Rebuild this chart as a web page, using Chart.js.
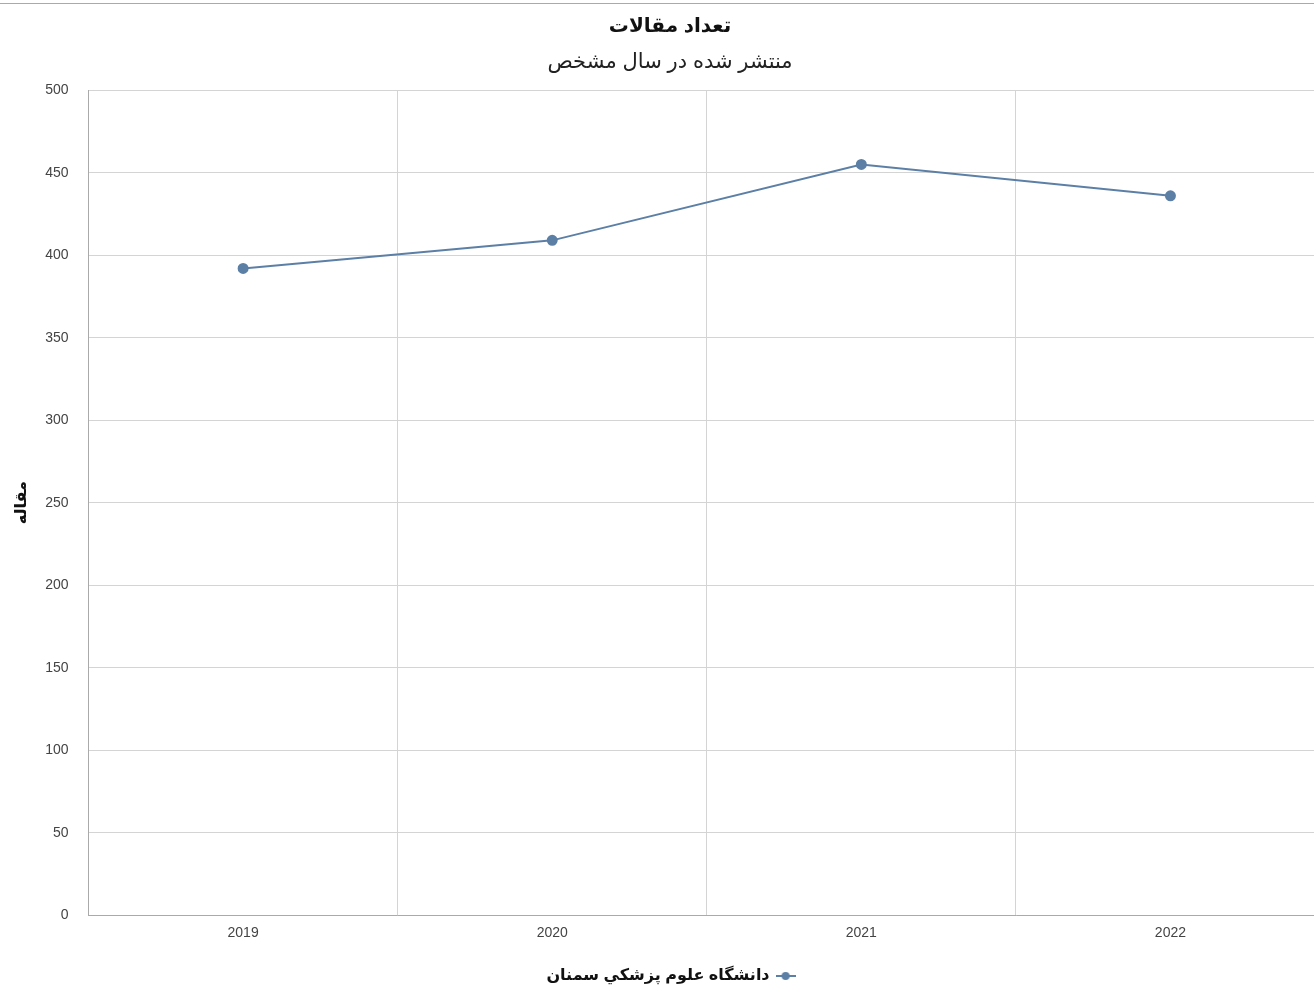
<!DOCTYPE html>
<html>
<head>
<meta charset="utf-8">
<script src="https://cdn.jsdelivr.net/npm/chart.js@4.4.0/dist/chart.umd.min.js"></script>
<style>
  html, body { margin: 0; padding: 0; background: #fff; overflow: hidden; width: 1314px; height: 985px; }
  #topline { position: absolute; top: 3px; left: 0; width: 1314px; height: 0; border-top: 1px solid #aaa; }
  #wrap { position: absolute; top: 4px; left: 0; width: 1332px; height: 990px; }
</style>
</head>
<body>
<div id="topline"></div>
<div id="wrap"><canvas id="chart" width="1332" height="990"></canvas></div>
<script>
// داده‌ها
const years = ['2019', '2020', '2021', '2022'];
const articles = [392, 409, 455, 436];
const seriesName = 'دانشگاه علوم پزشکي سمنان';
const yTicks = [0, 50, 100, 150, 200, 250, 300, 350, 400, 450, 500];

const lineColor = 'rgb(92, 127, 166)';
const gridColor = '#d4d4d4';
const fontFamily = '"Liberation Sans", "DejaVu Sans", Arial, sans-serif';

// نشانگر راهنما: خط کوتاه با دایره در وسط
function legendMarker() {
    const c = document.createElement('canvas');
    c.width = 20;
    c.height = 10;
    const g = c.getContext('2d');
    g.strokeStyle = lineColor;
    g.lineWidth = 2;
    g.beginPath();
    g.moveTo(0, 5);
    g.lineTo(20, 5);
    g.stroke();
    g.fillStyle = lineColor;
    g.beginPath();
    g.arc(10, 5, 4, 0, Math.PI * 2);
    g.fill();
    return c;
}

const ctx = document.getElementById('chart').getContext('2d');

new Chart(ctx, {
    type: 'line',
    data: {
        labels: years,
        datasets: [{
            label: seriesName,
            data: articles,
            borderColor: lineColor,
            backgroundColor: lineColor,
            borderWidth: 2,
            pointRadius: 4.5,
            pointHoverRadius: 5,
            tension: 0,
            pointStyle: 'circle'
        }]
    },
    options: {
        responsive: false,
        animation: false,
        layout: { padding: { left: 8, right: 0, top: 4, bottom: 0 } },
        plugins: {
            title: {
                display: true,
                text: 'تعداد مقالات',
                color: '#111',
                font: { family: fontFamily, size: 20, weight: 'bold' },
                padding: { top: 6, bottom: 12 }
            },
            subtitle: {
                display: true,
                text: 'منتشر شده در سال مشخص',
                color: '#222',
                font: { family: fontFamily, size: 21 },
                padding: { bottom: 15 }
            },
            legend: {
                position: 'bottom',
                rtl: true,
                labels: {
                    color: '#111',
                    font: { family: fontFamily, size: 16, weight: 'bold' },
                    usePointStyle: true,
                    boxWidth: 16,
                    padding: 6,
                    generateLabels: function(chart) {
                        const items = Chart.defaults.plugins.legend.labels.generateLabels(chart);
                        items.forEach(it => { it.pointStyle = legendMarker(); });
                        return items;
                    }
                }
            },
            tooltip: { enabled: false }
        },
        scales: {
            x: {
                offset: true,
                grid: { color: gridColor, offset: true, drawTicks: false },
                border: { color: '#aaa' },
                ticks: { color: '#444', font: { family: fontFamily, size: 14 }, padding: 10 },
                afterFit: function(scale) { scale.height += 10; }
            },
            y: {
                min: 0,
                max: 500,
                afterBuildTicks: function(scale) {
                    scale.ticks = yTicks.map(v => ({ value: v }));
                },
                grid: { color: gridColor, drawTicks: false },
                border: { color: '#aaa' },
                ticks: { color: '#444', font: { family: fontFamily, size: 14 }, padding: 20 },
                title: {
                    display: true,
                    text: 'مقاله',
                    color: '#111',
                    font: { family: fontFamily, size: 16, weight: 'bold' },
                    padding: { top: 4, bottom: 8 }
                },
                afterFit: function(scale) { scale.width -= 14; }
            }
        }
    }
});
</script>
</body>
</html>
